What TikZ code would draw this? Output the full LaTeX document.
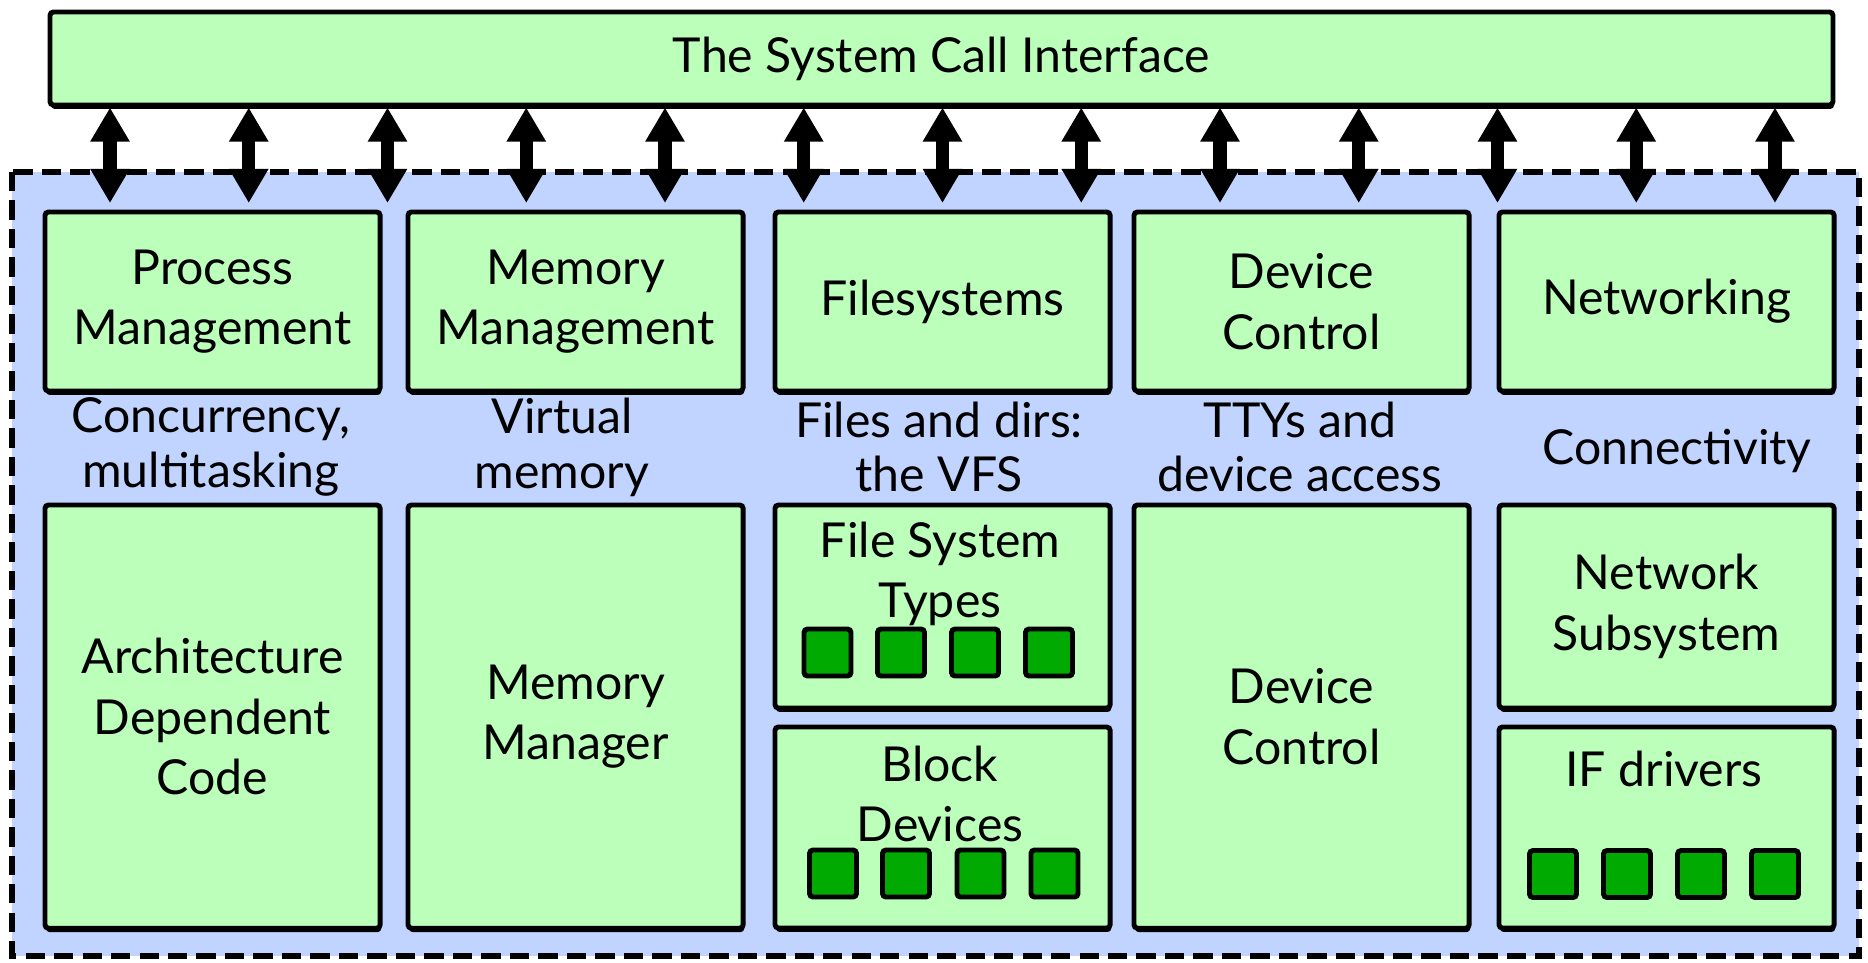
\documentclass[tikz,border=0pt]{standalone}
\usepackage{fontspec}
\setmainfont{Lato}
\usetikzlibrary{arrows.meta, shadows}
\definecolor{partgreen}{RGB}{187, 255, 187}
\definecolor{kernelblue}{RGB}{192, 212, 255}
\definecolor{unitgreen}{RGB}{0, 170, 0}
\newcommand{\partfont}{\fontsize{13.7}{17.2}\selectfont}
\newcommand{\notefont}{\fontsize{13.7}{15.6}\selectfont}

\begin{document}
\begin{tikzpicture}[x=0.01cm, y=-0.01cm,
    part/.style={draw, line width=1.4pt, fill=partgreen, rounded corners=1pt,
      anchor=north west, inner sep=0pt, minimum width=3.35cm,
      drop shadow={shadow xshift=0.3pt, shadow yshift=-1.1pt, fill=black, opacity=1}},
    unit/.style={draw, line width=1.4pt, fill=unitgreen, rounded corners=1pt,
      inner sep=0pt, minimum size=0.47cm},
    txt/.style={align=center, inner sep=0pt, font=\partfont},
    note/.style={align=center, inner sep=0pt, font=\notefont},
    biarrow/.style={line width=3.8pt,
      {Triangle[width=0.37cm, length=0.34cm]}-{Triangle[width=0.37cm, length=0.34cm]}}]
  \useasboundingbox (0,0) rectangle (1868,963);

  % kernel area
  \draw[fill=kernelblue, line width=1.6pt, dash pattern=on 5.5pt off 2.6pt]
    (12,172) rectangle (1859,956);

  % system call interface
  \node[part, minimum width=17.82cm, minimum height=0.93cm] (sci) at (47.5,9.5) {};
  \node[txt] (scitext) at (sci.center) {The System Call Interface};

  % top row of subsystems
  \node[part, minimum height=1.79cm] (proc) at (42.5,209.5) {};
  \node[part, minimum height=1.79cm] (mem) at (405.5,209.5) {};
  \node[part, minimum height=1.79cm] (fs) at (772.5,209.5) {};
  \node[part, minimum height=1.79cm] (dev) at (1131.5,209.5) {};
  \node[part, minimum height=1.79cm] (net) at (1496.5,209.5) {};
  \node[txt] (proctext) at (proc.center) {Process\\Management};
  \node[txt] (memtext) at (mem.center) {Memory\\Management};
  \node[txt] (fstext) at (fs.center) {Filesystems};
  \node[txt] (devtext) at (dev.center) {Device\\Control};
  \node[txt] (nettext) at (net.center) {Networking};

  % what each one provides
  \node[note] (procnote) at (211,447) {Concurrency,\\multitasking};
  \node[note] (memnote) at (562,447) {Virtual\\memory};
  \node[note] (fsnote) at (939,447) {Files and dirs:\\the VFS};
  \node[note] (devnote) at (1300,447) {TTYs and\\device access};
  \node[note] (netnote) at (1677,451) {Connectivity};

  % bottom row
  \node[part, minimum height=4.23cm] (arch) at (42.5,502.5) {};
  \node[part, minimum height=4.23cm] (mman) at (405.5,502.5) {};
  \node[part, minimum height=2.03cm] (fstypes) at (772.5,502.5) {};
  \node[part, minimum height=2.01cm] (blockdev) at (772.5,724.5) {};
  \node[part, minimum height=4.23cm] (devctl) at (1131.5,502.5) {};
  \node[part, minimum height=2.03cm] (netsub) at (1496.5,502.5) {};
  \node[part, minimum height=2.01cm] (ifdrv) at (1496.5,724.5) {};
  \node[txt] (archtext) at (arch.center) {Architecture\\Dependent\\Code};
  \node[txt] (mmantext) at (mman.center) {Memory\\Manager};
  \node[txt] (fstypestext) at (940,574) {File System\\Types};
  \node[txt] (blockdevtext) at (940,794) {Block\\Devices};
  \node[txt] (devctltext) at (devctl.center) {Device\\Control};
  \node[txt] (netsubtext) at (netsub.center) {Network\\Subsystem};
  \node[txt] (ifdrvtext) at (1664,769) {IF drivers};

  % the small units inside
  \foreach \x [count=\i] in {827.5,901,975,1049}
    \node[unit] (fsunit\i) at (\x,652.5) {};
  \foreach \x [count=\i] in {833,906,980.5,1054.5}
    \node[unit] (blockunit\i) at (\x,873.5) {};
  \foreach \x [count=\i] in {1553,1627,1701,1775}
    \node[unit] (ifunit\i) at (\x,874) {};

  % calls going in and out
  \foreach \i in {0,...,12}
    \coordinate (call\i) at (110+138.75*\i,203);
  \foreach \i in {0,...,12}
    \draw[biarrow] (sci.south -| call\i) -- (call\i);
\end{tikzpicture}
\end{document}
